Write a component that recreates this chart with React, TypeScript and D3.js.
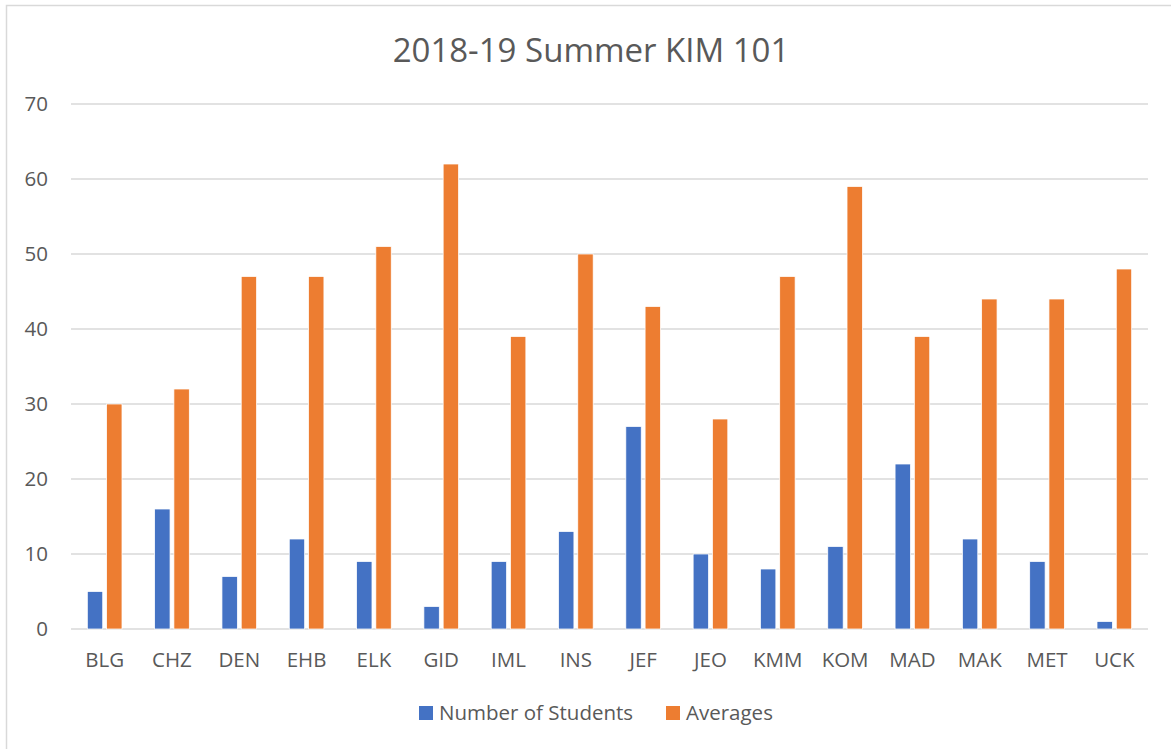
import { useEffect, useRef } from "react";
import * as d3 from "d3";

const categories = [
  "BLG", "CHZ", "DEN", "EHB", "ELK", "GID", "IML", "INS",
  "JEF", "JEO", "KMM", "KOM", "MAD", "MAK", "MET", "UCK",
];
const students = [5, 16, 7, 12, 9, 3, 9, 13, 27, 10, 8, 11, 22, 12, 9, 1];
const averages = [30, 32, 47, 47, 51, 62, 39, 50, 43, 28, 47, 59, 39, 44, 44, 48];
const seriesNames = ["Number of Students", "Averages"];
const colors = ["#4472C4", "#ED7D31"];
const yTicks = [0, 10, 20, 30, 40, 50, 60, 70];

export default function App() {
  const ref = useRef<SVGSVGElement>(null);

  useEffect(() => {
    if (!ref.current) return;
    const svg = d3.select(ref.current);
    svg.selectAll("*").remove();

    const width = 1171;
    const height = 749;
    const margin = { top: 104, right: 23, bottom: 120, left: 71 };
    const font = "'Open Sans', 'Segoe UI', sans-serif";
    const textColor = "#595959";
    const labelSize = "20.5px";

    // chart frame (only left and top edges show)
    svg
      .append("rect")
      .attr("x", 6.5)
      .attr("y", 5.5)
      .attr("width", width + 20)
      .attr("height", height + 20)
      .attr("fill", "#fff")
      .attr("stroke", "#d9d9d9")
      .attr("stroke-width", 1.5);

    const x0 = d3
      .scaleBand<string>()
      .domain(categories)
      .range([margin.left, width - margin.right])
      .paddingInner(0.485)
      .paddingOuter(0.2425);

    const x1 = d3
      .scaleBand<string>()
      .domain(seriesNames)
      .range([0, x0.bandwidth()])
      .paddingInner(0.2);

    const y = d3
      .scaleLinear()
      .domain([0, 70])
      .range([height - margin.bottom, margin.top]);

    // grid lines
    svg
      .append("g")
      .selectAll("line")
      .data(yTicks)
      .enter()
      .append("line")
      .attr("x1", margin.left)
      .attr("x2", width - margin.right)
      .attr("y1", (d) => y(d))
      .attr("y2", (d) => y(d))
      .attr("stroke", "#d9d9d9")
      .attr("stroke-width", 1.5);

    // y labels
    svg
      .append("g")
      .selectAll("text")
      .data(yTicks)
      .enter()
      .append("text")
      .attr("x", 48)
      .attr("y", (d) => y(d))
      .attr("dy", "0.35em")
      .attr("text-anchor", "end")
      .style("font-family", font)
      .style("font-size", labelSize)
      .style("fill", textColor)
      .text((d) => d);

    // bars
    const rows = categories.map((c, i) => ({
      cat: c,
      values: [students[i], averages[i]],
    }));

    const groups = svg
      .append("g")
      .selectAll("g")
      .data(rows)
      .enter()
      .append("g")
      .attr("transform", (d) => `translate(${x0(d.cat)},0)`);

    groups
      .selectAll("rect")
      .data((d) => d.values.map((v, i) => ({ key: seriesNames[i], v, i })))
      .enter()
      .append("rect")
      .attr("x", (d) => x1(d.key) as number)
      .attr("y", (d) => y(d.v))
      .attr("width", x1.bandwidth())
      .attr("height", (d) => y(0) - y(d.v))
      .attr("fill", (d) => colors[d.i])
      .attr("stroke", "#fff")
      .attr("stroke-width", 0.75);

    // category labels
    svg
      .append("g")
      .selectAll("text")
      .data(categories)
      .enter()
      .append("text")
      .attr("x", (d) => (x0(d) as number) + x0.bandwidth() / 2)
      .attr("y", 660)
      .attr("dy", "0.35em")
      .attr("text-anchor", "middle")
      .style("font-family", font)
      .style("font-size", labelSize)
      .style("fill", textColor)
      .text((d) => d);

    // title
    svg
      .append("text")
      .attr("x", 591)
      .attr("y", 50)
      .attr("dy", "0.35em")
      .attr("text-anchor", "middle")
      .style("font-family", font)
      .style("font-size", "33px")
      .style("fill", textColor)
      .text("2018-19 Summer KIM 101");

    // legend
    const legendX = [419, 666];
    const legend = svg
      .append("g")
      .selectAll("g")
      .data(seriesNames)
      .enter()
      .append("g")
      .attr("transform", (_, i) => `translate(${legendX[i]},713)`);

    legend
      .append("rect")
      .attr("x", 0)
      .attr("y", -7)
      .attr("width", 14)
      .attr("height", 14)
      .attr("fill", (_, i) => colors[i]);

    legend
      .append("text")
      .attr("x", 20)
      .attr("y", 0)
      .attr("dy", "0.35em")
      .style("font-family", font)
      .style("font-size", labelSize)
      .style("fill", textColor)
      .text((d) => d);
  }, []);

  return (
    <svg
      ref={ref}
      width={1171}
      height={749}
      style={{ position: "absolute", left: 0, top: 0, background: "#fff" }}
    />
  );
}
